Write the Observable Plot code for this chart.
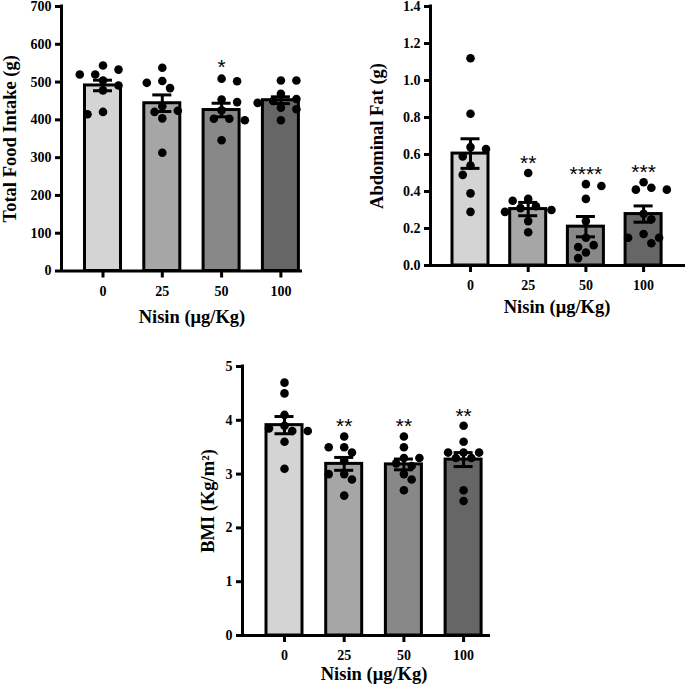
<!DOCTYPE html>
<html><head><meta charset="utf-8">
<script src="https://cdn.jsdelivr.net/npm/d3@7"></script>
<script src="https://cdn.jsdelivr.net/npm/@observablehq/plot@0.6"></script>
<style>
body{margin:0;background:#fff;}
#wrap{position:relative;width:685px;height:688px;overflow:hidden;background:#fff;}
.panel{position:absolute;}
</style></head><body><div id="wrap"></div>
<script>
// ---------- shared ----------
const doses = ["0", "25", "50", "100"];
const xTitle = "Nisin (μg/Kg)";
const barColors = ["#d4d4d4", "#a6a6a6", "#888888", "#666666"];

// ---------- Total food intake ----------
const foodTitle = "Total Food Intake (g)";
const food0 = [544, 533, 520, 520, 504, 491, 478, 421, 415];
const food25 = [538, 503, 498, 484, 436, 424, 421, 404, 313];
const food50 = [509, 502, 454, 447, 425, 403, 403, 399, 346];
const food100 = [504, 504, 469, 455, 450, 445, 432, 428, 399];
const foodMean = [491, 444, 426, 452];
const foodSem = [14, 22, 18, 9];
const foodStars = ["", "", "*", ""];
const foodTicks = [0, 100, 200, 300, 400, 500, 600, 700];

// ---------- Abdominal fat ----------
const fatTitle = "Abdominal Fat (g)";
const fat0 = [1.12, 0.82, 0.64, 0.63, 0.59, 0.54, 0.49, 0.39, 0.29];
const fat25 = [0.50, 0.36, 0.35, 0.32, 0.31, 0.30, 0.29, 0.24, 0.18];
const fat50 = [0.44, 0.43, 0.36, 0.24, 0.15, 0.11, 0.10, 0.07, 0.04];
const fat100 = [0.45, 0.42, 0.41, 0.41, 0.28, 0.25, 0.17, 0.15, 0.15, 0.12];
const fatMean = [0.605, 0.305, 0.21, 0.278];
const fatSem = [0.08, 0.036, 0.055, 0.044];
const fatStars = ["", "**", "****", "***"];
const fatTicks = [0, 0.2, 0.4, 0.6, 0.8, 1.0, 1.2, 1.4];

// ---------- BMI ----------
const bmiTitle = "BMI (Kg/m²)";
const bmi0 = [4.7, 4.5, 4.1, 3.9, 3.85, 3.8, 3.8, 3.6, 3.1];
const bmi25 = [3.7, 3.5, 3.5, 3.4, 3.25, 3.0, 3.0, 2.9, 2.6];
const bmi50 = [3.7, 3.5, 3.3, 3.3, 3.2, 3.15, 3.0, 2.9, 2.7];
const bmi100 = [3.9, 3.6, 3.4, 3.4, 3.4, 3.3, 3.3, 2.7, 2.5];
const bmiMean = [3.91, 3.19, 3.18, 3.27];
const bmiSem = [0.16, 0.12, 0.10, 0.13];
const bmiStars = ["", "**", "**", "**"];
const bmiTicks = [0, 1, 2, 3, 4, 5];

const serif = "'Liberation Serif','Times New Roman',serif";
const sans = "'Liberation Sans',Arial,sans-serif";

function drawPanel(o) {
  const fw = o.width - o.ml - o.mr;
  const fh = o.height - o.mt - o.mb;
  const pxX = o.step, pxY = fh / o.yMax;
  const x0 = -o.firstPx / pxX, x1 = (fw - o.firstPx) / pxX;
  const half = 7.75, D = 9.4;
  const dots = [];
  o.groups.forEach((vals, i) => {
    const placed = [];
    [...vals].sort((a, b) => b - a).forEach((v, n) => {
      const sign = n % 2 ? 1 : -1;
      let off = 0;
      for (let k = 0; k < 40; k++) {
        const m = Math.ceil(k / 2);
        const c = k === 0 ? 0 : (k % 2 ? sign : -sign) * m * half;
        if (placed.every(p => (c - p.off) ** 2 + ((v - p.v) * pxY) ** 2 >= D * D)) { off = c; break; }
      }
      placed.push({v, off});
      dots.push({x: i + off / pxX, y: v});
    });
  });
  const stats = o.mean.map((m, i) => ({
    i, mean: m, lo: m - o.sem[i], hi: m + o.sem[i],
    max: d3.max(o.groups[i]), star: o.stars[i], fill: barColors[i]
  }));
  const bw = 18 / pxX, cw = 9.5 / pxX;
  const svg = Plot.plot({
    width: o.width, height: o.height,
    marginLeft: o.ml, marginRight: o.mr, marginTop: o.mt, marginBottom: o.mb,
    x: {domain: [x0, x1]},
    y: {domain: [0, o.yMax]},
    color: {type: "identity"},
    style: {background: "transparent", color: "black", fontFamily: serif},
    marks: [
      Plot.rectY(stats, {x1: d => d.i - bw, x2: d => d.i + bw, y1: 0, y2: "mean", fill: "fill", stroke: "black", strokeWidth: 3}),
      Plot.dot(dots, {x: "x", y: "y", r: 4.3, fill: "black", stroke: "none"}),
      Plot.ruleX(stats, {x: "i", y1: "lo", y2: "hi", strokeWidth: 3}),
      Plot.ruleY(stats, {y: "hi", x1: d => d.i - cw, x2: d => d.i + cw, strokeWidth: 3}),
      Plot.ruleY(stats, {y: "lo", x1: d => d.i - cw, x2: d => d.i + cw, strokeWidth: 3}),
      Plot.text(stats, {x: "i", y: "max", text: "star", dy: o.starDy, fontSize: 21, fontFamily: sans}),
      Plot.ruleY([0], {x1: x0, x2: x1, strokeWidth: 3}),
      Plot.ruleX([x0], {y1: 0, y2: o.yMax, strokeWidth: 3, strokeLinecap: "square"}),
      Plot.axisY({ticks: o.yTicks, tickFormat: o.fmt, tickSize: 6, tickPadding: 4, strokeWidth: 3,
        fontSize: 14, fontWeight: "bold", fontFamily: serif, label: null}),
      Plot.axisX({ticks: [0, 1, 2, 3], tickFormat: i => doses[i], tickSize: 7, tickPadding: o.xPad, strokeWidth: 3,
        fontSize: 14, fontWeight: "bold", fontFamily: serif, label: null}),
      Plot.text([xTitle], {x: 1.5, text: d => d, frameAnchor: "bottom", lineAnchor: "middle", textAnchor: "middle",
        dy: o.xtDy, fontSize: 18.5, fontWeight: "bold", fontFamily: serif}),
      Plot.text([o.yTitle], {y: o.yMax / 2, text: d => d, frameAnchor: "left", textAnchor: "middle", lineAnchor: "middle",
        rotate: -90, dx: o.ytDx, fontSize: 18.5, fontWeight: "bold", fontFamily: serif})
    ]
  });
  const div = document.createElement("div");
  div.className = "panel";
  div.style.left = o.left + "px";
  div.style.top = o.top + "px";
  div.appendChild(svg);
  document.getElementById("wrap").appendChild(div);
}

drawPanel({
  left: 0, top: 0, width: 302, height: 330, ml: 61, mr: 0, mt: 6, mb: 59.5,
  step: 59.3, firstPx: 41.5, yMax: 700, yTicks: foodTicks, fmt: d3.format("d"),
  groups: [food0, food25, food50, food100], mean: foodMean, sem: foodSem, stars: foodStars,
  starDy: -11.7, xPad: 7.6, xtDy: 46.3, ytDx: -51.5, yTitle: foodTitle
});
drawPanel({
  left: 360, top: 0, width: 325, height: 330, ml: 70, mr: 0, mt: 6, mb: 65,
  step: 57.7, firstPx: 40, yMax: 1.4, yTicks: fatTicks, fmt: d3.format(".1f"),
  groups: [fat0, fat25, fat50, fat100], mean: fatMean, sem: fatSem, stars: fatStars,
  starDy: -9.7, xPad: 7.4, xtDy: 41.4, ytDx: -53.7, yTitle: fatTitle
});
drawPanel({
  left: 190, top: 350, width: 310, height: 338, ml: 52, mr: 10, mt: 16, mb: 53,
  step: 59.7, firstPx: 42, yMax: 5, yTicks: bmiTicks, fmt: d3.format("d"),
  groups: [bmi0, bmi25, bmi50, bmi100], mean: bmiMean, sem: bmiSem, stars: bmiStars,
  starDy: -9.7, xPad: 7.1, xtDy: 39, ytDx: -34.7, yTitle: bmiTitle
});
</script>
</body></html>
